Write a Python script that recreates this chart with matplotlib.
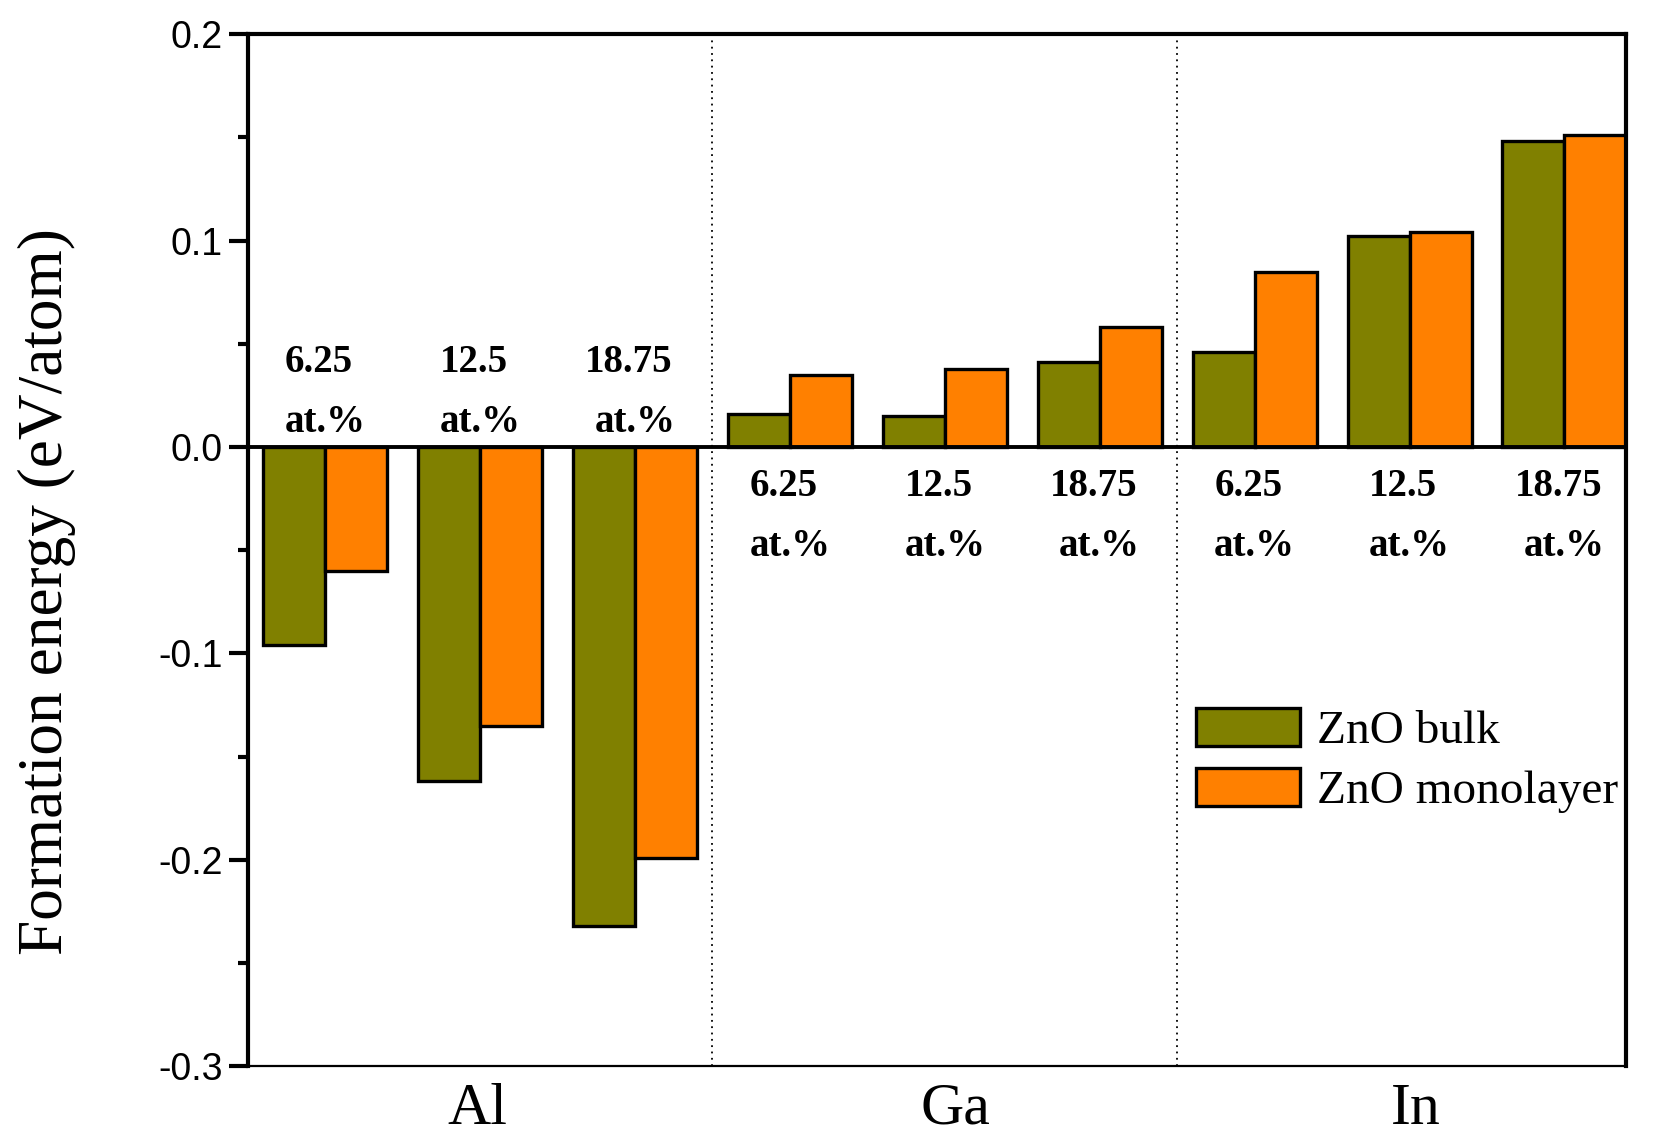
import matplotlib
matplotlib.use("Agg")
import matplotlib.pyplot as plt
from matplotlib.ticker import MultipleLocator
import numpy as np

# formation energies (eV/atom)
dopants = ['Al', 'Ga', 'In']
concentrations = ['6.25', '12.5', '18.75']
bulk = [-0.096, -0.162, -0.232, 0.016, 0.015, 0.041, 0.046, 0.102, 0.148]
monolayer = [-0.060, -0.135, -0.199, 0.035, 0.038, 0.058, 0.085, 0.104, 0.151]

olive = '#808000'
orange = '#FF8000'

plt.rcParams['font.family'] = ['Liberation Serif', 'DejaVu Serif']

fig = plt.figure(figsize=(16.63, 11.38), dpi=100)
ax = fig.add_axes([0.149, 0.063, 0.829, 0.907])

x = np.arange(len(bulk))
w = 0.4
ax.bar(x - w / 2, bulk, w, color=olive, edgecolor='black', linewidth=2.4, label='ZnO bulk', zorder=2)
ax.bar(x + w / 2, monolayer, w, color=orange, edgecolor='black', linewidth=2.4, label='ZnO monolayer', zorder=2)

ax.axhline(0, color='black', linewidth=2.8, zorder=3)
for xd in [2.5, 5.5]:
    ax.axvline(xd, color='black', linewidth=1.3, linestyle=(0, (1, 2.5)), zorder=1)

# concentration labels: above zero for Al, below zero for Ga and In
for i in range(len(bulk)):
    conc = concentrations[i % 3]
    if i < 3:
        y1, y2 = 0.041, 0.012
    else:
        y1, y2 = -0.019, -0.048
    ax.text(x[i] - 0.04, y1, conc, ha='center', va='center', fontsize=28, fontweight='bold')
    ax.text(x[i], y2, 'at.%', ha='center', va='center', fontsize=28, fontweight='bold')

ax.set_xlim(-0.5, 8.4)
ax.set_ylim(-0.3, 0.2)

ax.set_xticks([0.98, 4.07, 7.04])
ax.set_xticklabels(dopants, fontsize=43)
ax.tick_params(axis='x', length=0, pad=12)

ax.yaxis.set_minor_locator(MultipleLocator(0.05))
ax.set_yticks([0.2, 0.1, 0.0, -0.1, -0.2, -0.3])
ax.set_yticklabels(['0.2', '0.1', '0.0', '-0.1', '-0.2', '-0.3'], family='Liberation Sans', fontsize=27)
ax.tick_params(axis='y', which='major', direction='out', length=14, width=3, pad=4)
ax.tick_params(axis='y', which='minor', direction='out', length=7, width=3)

for s in ['left', 'top', 'right']:
    ax.spines[s].set_linewidth(3)
ax.spines['bottom'].set_linewidth(1.6)

fig.text(0.028, 0.48, 'Formation energy (eV/atom)', rotation=90, ha='center', va='center', fontsize=45.5)

ax.legend(loc='upper left', bbox_to_anchor=(0.688, 0.347), frameon=False, fontsize=34,
          handlelength=2.2, handleheight=0.85, handletextpad=0.35, labelspacing=0.31,
          borderpad=0, borderaxespad=0)

fig.savefig('out.png', dpi=100)
